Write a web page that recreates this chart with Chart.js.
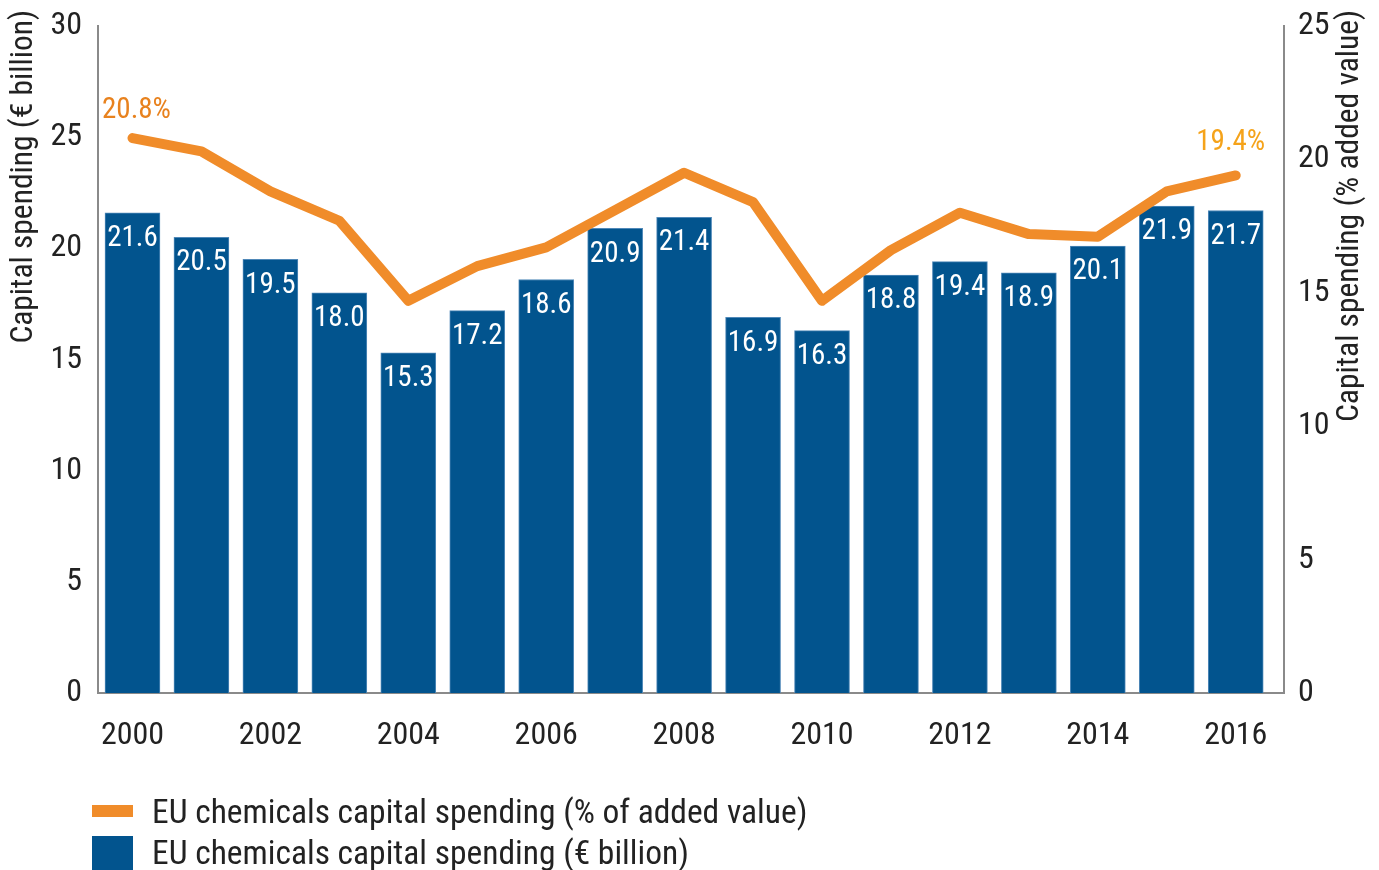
<!DOCTYPE html>
<html>
<head>
<meta charset="utf-8">
<script src="https://cdn.jsdelivr.net/npm/chart.js@4.4.1/dist/chart.umd.min.js"></script>
<style>
    html, body { margin: 0; padding: 0; background: #fff; overflow: hidden; }
    #wrap { position: relative; width: 1379px; height: 870px; }
    #legend { position: absolute; left: 92px; top: 792px; font-family: 'Roboto Condensed', 'Roboto', sans-serif;
              font-size: 33.5px; color: #222; }
    .lg-row { position: relative; height: 41px; }
    .lg-box { position: absolute; left: 0; width: 41px; }
    .lg-text { position: absolute; left: 60px; top: 0; white-space: nowrap; line-height: 40px; }
</style>
</head>
<body>
<div id="wrap">
    <canvas id="chart" width="1379" height="870"></canvas>
    <div id="legend"></div>
</div>
<script>
// EU chemicals capital spending, 2000–2016
const years    = ['2000','2001','2002','2003','2004','2005','2006','2007','2008',
                  '2009','2010','2011','2012','2013','2014','2015','2016'];
const spending = [21.6, 20.5, 19.5, 18.0, 15.3, 17.2, 18.6, 20.9, 21.4,
                  16.9, 16.3, 18.8, 19.4, 18.9, 20.1, 21.9, 21.7];
const shareOfValue = [20.8, 20.3, 18.8, 17.7, 14.7, 16.0, 16.7, 18.1, 19.5,
                      18.4, 14.7, 16.6, 18.0, 17.2, 17.1, 18.8, 19.4];

const seriesNames = ['EU chemicals capital spending (% of added value)',
                     'EU chemicals capital spending (€ billion)'];
const axisTitles  = ['Capital spending (€ billion)', 'Capital spending (% added value)'];

const FONT   = "'Roboto Condensed', 'Roboto', sans-serif";
const BLUE   = '#02548e';
const ORANGE = '#f08c2a';
const INK    = '#222';

// x runs on a numeric index so the plot can keep a little room after 2016
const toPoints = vals => vals.map((v, i) => ({ x: i, y: v }));

// values written inside the top of each bar, plus end labels on the line
const valueLabels = {
    id: 'valueLabels',
    afterDatasetsDraw(chart) {
        const ctx = chart.ctx;
        ctx.save();
        ctx.textAlign = 'center';
        ctx.textBaseline = 'middle';

        ctx.font = '29px ' + FONT;
        ctx.fillStyle = '#fff';
        chart.getDatasetMeta(1).data.forEach((bar, i) => {
            ctx.fillText(spending[i].toFixed(1), bar.x, bar.y + 26);
        });

        const pts = chart.getDatasetMeta(0).data;
        const last = pts.length - 1;
        ctx.fillStyle = '#e8821e';
        ctx.fillText(shareOfValue[0].toFixed(1) + '%', pts[0].x + 4, pts[0].y - 27);
        ctx.fillStyle = '#f5a31a';
        ctx.fillText(shareOfValue[last].toFixed(1) + '%', pts[last].x - 5, pts[last].y - 33);
        ctx.restore();
    }
};

// both axis titles read bottom-to-top, starting near the top of the plot
const axisTitlesPlugin = {
    id: 'axisTitlesPlugin',
    afterDraw(chart) {
        const ctx = chart.ctx;
        const top = chart.chartArea.top - 16;
        ctx.save();
        ctx.font = '31.5px ' + FONT;
        ctx.fillStyle = INK;
        ctx.textAlign = 'right';
        ctx.textBaseline = 'middle';
        [[24, axisTitles[0]], [1350, axisTitles[1]]].forEach(([x, text]) => {
            ctx.save();
            ctx.translate(x, top);
            ctx.rotate(-Math.PI / 2);
            ctx.fillText(text, 0, 0);
            ctx.restore();
        });
        ctx.restore();
    }
};

const tickFont = { family: FONT, size: 32 };
const noPad = s => { s.paddingTop = 0; s.paddingBottom = 0; };

new Chart(document.getElementById('chart'), {
    type: 'bar',
    data: {
        datasets: [
            {
                type: 'line',
                label: seriesNames[0],
                data: toPoints(shareOfValue),
                yAxisID: 'y1',
                borderColor: ORANGE,
                borderWidth: 10,
                borderCapStyle: 'round',
                borderJoinStyle: 'round',
                pointRadius: 0,
                tension: 0,
                order: 0,
            },
            {
                label: seriesNames[1],
                data: toPoints(spending),
                yAxisID: 'y',
                backgroundColor: BLUE,
                borderColor: '#4f88b8',
                borderWidth: 1,
                barThickness: 55,
                order: 1,
            },
        ],
    },
    options: {
        responsive: false,
        animation: false,
        layout: { padding: { top: 26, bottom: 0, left: 0, right: 0 } },
        plugins: { legend: { display: false }, tooltip: { enabled: false } },
        scales: {
            x: {
                type: 'linear',
                min: -0.5, max: 16.7,
                offset: false,
                grid: { display: false, drawTicks: false },
                border: { display: true, color: '#8a8a8a', width: 2 },
                ticks: {
                    color: INK, font: tickFont, padding: 24, maxRotation: 0,
                    autoSkip: false,
                    callback: v => years[v] ?? '',
                },
                // one label every second year, starting at 2000
                afterBuildTicks: s => {
                    s.ticks = years.map((_, i) => ({ value: i })).filter(t => t.value % 2 === 0);
                },
                afterFit: s => { s.height = 177; s.paddingLeft = 0; s.paddingRight = 0; },
            },
            y: {
                position: 'left',
                min: 0, max: 30,
                grid: { display: false, drawTicks: false },
                border: { display: true, color: '#8a8a8a', width: 2 },
                ticks: { stepSize: 5, color: INK, font: tickFont, padding: 16 },
                afterFit: s => { s.width = 98; noPad(s); },
            },
            y1: {
                position: 'right',
                min: 0, max: 25,
                grid: { display: false, drawTicks: false },
                border: { display: true, color: '#8a8a8a', width: 2 },
                ticks: { stepSize: 5, color: INK, font: tickFont, padding: 14 },
                afterFit: s => { s.width = 95; noPad(s); },
            },
        },
    },
    plugins: [valueLabels, axisTitlesPlugin],
});

// legend: thin orange bar for the line, tall blue block for the bars
const legend = document.getElementById('legend');
[[ORANGE, 12, 13], [BLUE, 34, 3]].forEach(([color, h, top], i) => {
    const row = document.createElement('div');
    row.className = 'lg-row';
    const box = document.createElement('div');
    box.className = 'lg-box';
    box.style.background = color;
    box.style.height = h + 'px';
    box.style.top = top + 'px';
    const txt = document.createElement('div');
    txt.className = 'lg-text';
    txt.textContent = seriesNames[i];
    row.appendChild(box);
    row.appendChild(txt);
    legend.appendChild(row);
});
</script>
</body>
</html>
